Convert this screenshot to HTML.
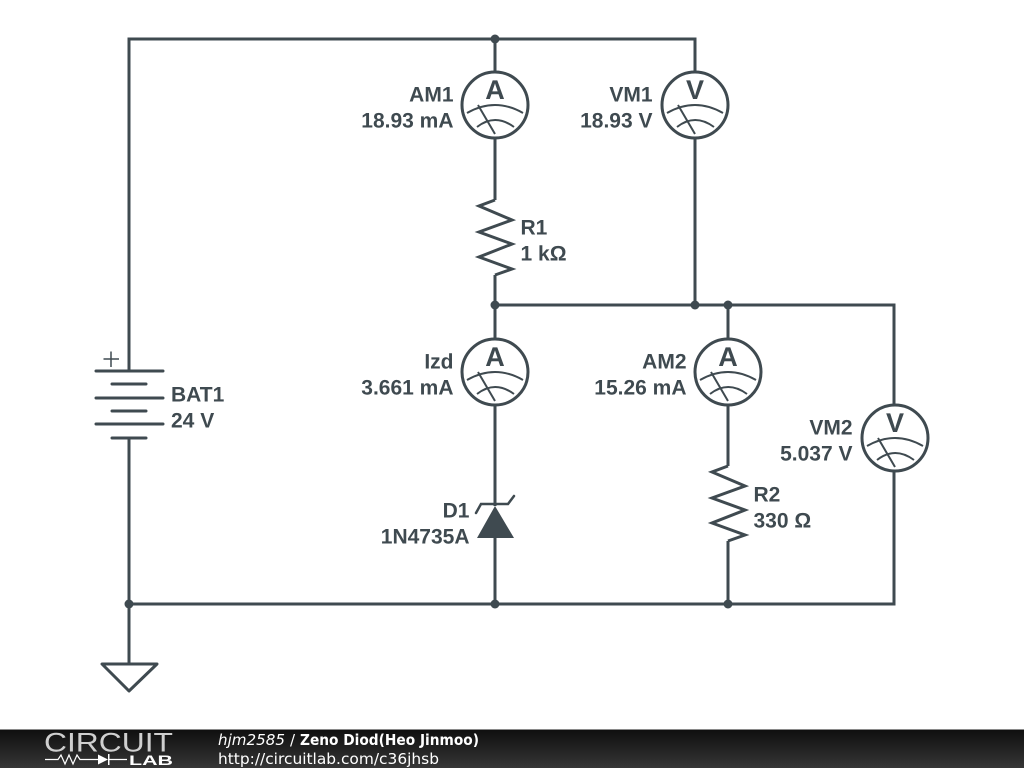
<!DOCTYPE html>
<html><head><meta charset="utf-8"><style>
html,body{margin:0;padding:0;background:#fff;width:1024px;height:768px;overflow:hidden}
svg{display:block}
.w{fill:none;stroke:#3f4a50;stroke-width:3}
.t{font-family:"Liberation Sans",sans-serif;font-weight:bold;font-size:21px;fill:#3f4a50;text-rendering:geometricPrecision}
.e{text-anchor:end}
.m{font-family:"Liberation Sans",sans-serif;font-weight:bold;font-size:27px;fill:#3f4a50;text-anchor:middle;text-rendering:geometricPrecision}
.f{font-family:"DejaVu Sans",sans-serif;font-size:15px;fill:#fff}
</style></head><body>
<svg width="1024" height="768" viewBox="0 0 1024 768" xmlns="http://www.w3.org/2000/svg">
<defs>
<linearGradient id="g" x1="0" y1="0" x2="0" y2="1"><stop offset="0" stop-color="#0e0e0e"/><stop offset="1" stop-color="#363636"/></linearGradient>
<g id="dial" fill="none" stroke="#3f4a50">
<circle cx="0" cy="0" r="33" stroke-width="3"/>
<path d="M-28 8Q0 -8 28 8M-18 22Q0 8 19 22M-17 0L0 29" stroke-width="2"/>
</g>
<polyline id="res" points="495,200 479,206 512,220 479,232 512,244 479,257 512,269 495,275" fill="none" stroke="#3f4a50" stroke-width="3" stroke-linejoin="miter"/>
</defs>
<path class="w" d="M129 371V39H695V72M495 39V72M495 138V200M495 275V339M495 305H894V405M695 138V305M728 305V339M495 405V506M495 537V604M728 405V466M728 541V604M894 472V604H129M129 438V664"/>
<g stroke="#3f4a50" stroke-width="3" stroke-linecap="round">
<path d="M96 371H163M96 398H163M96 424H163M112 384H146M112 411H146M112 438H146"/>
<path d="M103.500 359H119M111 351.500V367" stroke-width="1.500" stroke-linecap="butt"/>
<path d="M476 513L481 504H508L514 496" fill="none" stroke-width="2.500"/>
</g>
<polygon points="495,506 477,538 514,538" fill="#3f4a50"/>
<polygon points="102,664 157,664 129,691" fill="none" stroke="#3f4a50" stroke-width="3" stroke-linejoin="round"/>
<use href="#res"/>
<use href="#res" transform="translate(233,266)"/>
<use href="#dial" x="495" y="105"/>
<use href="#dial" x="695" y="105"/>
<use href="#dial" x="495" y="372"/>
<use href="#dial" x="728" y="372"/>
<use href="#dial" x="895" y="438"/>
<g fill="#3f4a50">
<circle cx="495" cy="39" r="4.500"/><circle cx="495" cy="305" r="4.500"/><circle cx="695" cy="305" r="4.500"/><circle cx="728" cy="305" r="4.500"/><circle cx="129" cy="604" r="4.500"/><circle cx="495" cy="604" r="4.500"/><circle cx="728" cy="604" r="4.500"/>
</g>
<text class="m" x="495" y="99">A</text>
<text class="m" x="695" y="99">V</text>
<text class="m" x="495" y="366">A</text>
<text class="m" x="728" y="366">A</text>
<text class="m" x="895" y="432">V</text>
<text class="t e" x="453.500" y="101.500">AM1</text>
<text class="t e" x="453.500" y="127.500">18.93 mA</text>
<text class="t e" x="652.500" y="101.500">VM1</text>
<text class="t e" x="652.500" y="127.500">18.93 V</text>
<text class="t" x="520.500" y="234.500">R1</text>
<text class="t" x="520.500" y="260.500">1 kΩ</text>
<text class="t" x="171" y="401.500">BAT1</text>
<text class="t" x="171" y="427.500">24 V</text>
<text class="t e" x="453.500" y="368.500">Izd</text>
<text class="t e" x="453.500" y="394.500">3.661 mA</text>
<text class="t e" x="686.500" y="368.500">AM2</text>
<text class="t e" x="686.500" y="394.500">15.26 mA</text>
<text class="t e" x="852.500" y="434.500">VM2</text>
<text class="t e" x="852.500" y="460.500">5.037 V</text>
<text class="t e" x="469.500" y="517.500">D1</text>
<text class="t e" x="469.500" y="543.500">1N4735A</text>
<text class="t" x="753.500" y="501.500">R2</text>
<text class="t" x="753.500" y="527.500">330 Ω</text>
<rect x="0" y="729" width="1024" height="39" fill="url(#g)"/>
<rect x="0" y="729" width="1024" height="1" fill="#8a8a8a"/>
<text x="44" y="751.500" font-family="Liberation Sans,sans-serif" font-size="27" fill="#cfcfcf" textLength="129" lengthAdjust="spacingAndGlyphs">CIRCUIT</text>
<path d="M45 759.500H58L61 755L65 764L69 755L73 764L77 755L80 759.500H98M109 759.500H127" fill="none" stroke="#fff" stroke-width="1.200"/>
<polygon points="98,754.500 98,764.500 108,759.500" fill="#fff"/>
<rect x="108" y="754" width="1.500" height="11" fill="#fff"/>
<text x="129" y="765" font-family="Liberation Sans,sans-serif" font-weight="bold" font-size="13.500" fill="#fff" textLength="44" lengthAdjust="spacingAndGlyphs">LAB</text>
<text class="f" x="218" y="745" font-style="italic" textLength="67" lengthAdjust="spacingAndGlyphs">hjm2585</text>
<text class="f" x="290" y="745">/</text>
<text class="f" x="300" y="745" font-weight="bold" textLength="179" lengthAdjust="spacingAndGlyphs">Zeno Diod(Heo Jinmoo)</text>
<text class="f" x="218" y="764" textLength="221" lengthAdjust="spacingAndGlyphs">http://circuitlab.com/c36jhsb</text>
</svg>
</body></html>
